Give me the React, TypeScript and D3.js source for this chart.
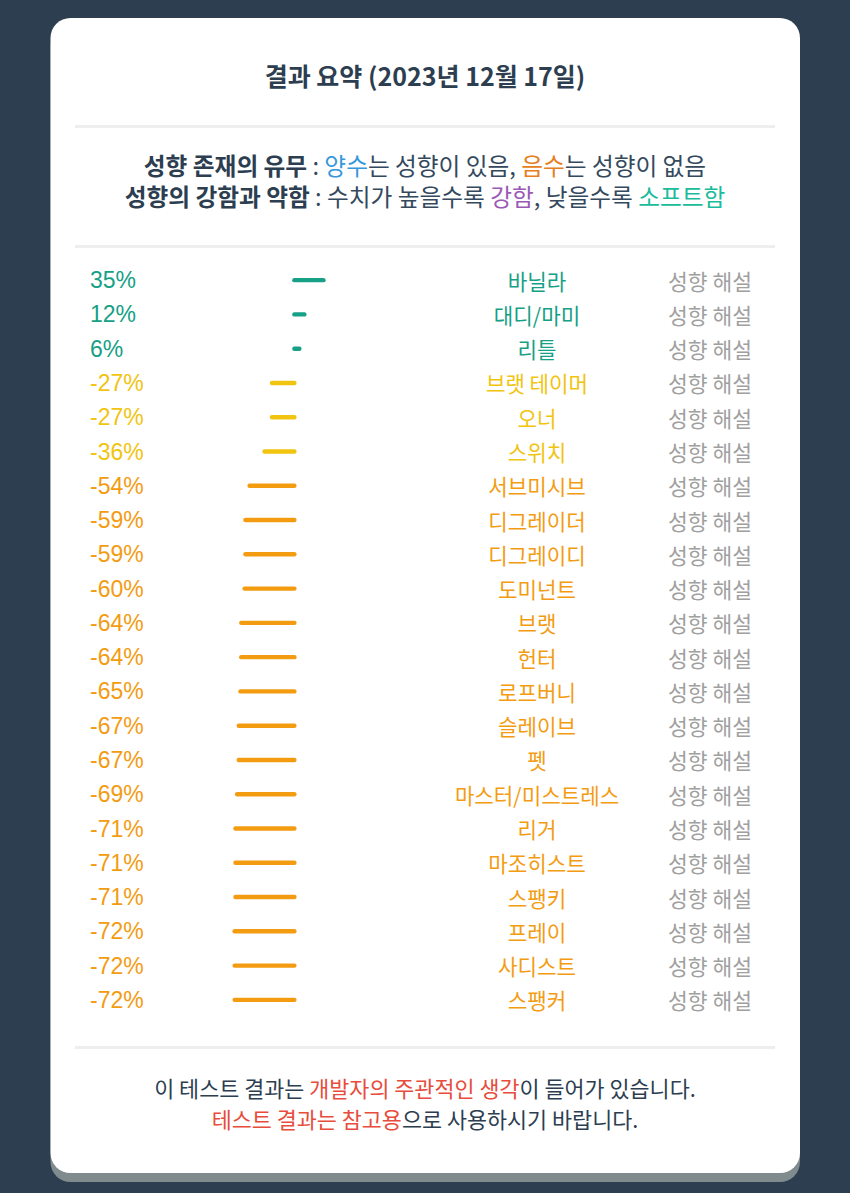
import React from "react";
import * as d3 from "d3";

const categories = [
  "바닐라", "대디/마미", "리틀", "브랫 테이머", "오너", "스위치", "서브미시브",
  "디그레이더", "디그레이디", "도미넌트", "브랫", "헌터", "로프버니", "슬레이브",
  "펫", "마스터/미스트레스", "리거", "마조히스트", "스팽키", "프레이", "사디스트", "스팽커",
];
const values = [35, 12, 6, -27, -27, -36, -54, -59, -59, -60, -64, -64, -65, -67, -67, -69, -71, -71, -71, -72, -72, -72];
const detailLabel = "성향 해설";
const title = "결과 요약 (2023년 12월 17일)";

const W = 850;
const H = 1193;
const KR = "'Noto Sans CJK KR', 'Noto Sans', sans-serif";
const LAT = "'Liberation Sans', Arial, sans-serif";

function colorFor(v: number) {
  if (v > 0) return "#16a085";
  if (v > -50) return "#f1c40f";
  return "#f39c12";
}

export default function App() {
  const y = d3.scaleBand<number>().domain(d3.range(categories.length)).range([263, 1017]);
  const x = d3.scaleLinear().domain([-100, 100]).range([294.4 - 83, 294.4 + 83]);
  const yc = (i: number) => (y(i) as number) + y.bandwidth() / 2;

  return (
    <svg width={W} height={H} style={{ position: "absolute", left: 0, top: 0, display: "block" }}>
      <rect x={0} y={0} width={W} height={H} fill="#2c3e50" />
      {/* card shadow */}
      <rect x={50.5} y={26} width={749.5} height={1156} rx={20} fill="#7f8b8d" />
      <rect x={50.5} y={18} width={749.5} height={1155} rx={20} fill="#ffffff" />

      <text x={425} y={75} textAnchor="middle" dominantBaseline="central" fontFamily={KR} fontWeight={700} fontSize={25} fill="#2c3e50">
        {title}
      </text>

      <rect x={75} y={125} width={700} height={3} fill="#eeeeee" />

      <text x={425} y={165} textAnchor="middle" dominantBaseline="central" fontFamily={KR} fontSize={23.7} fill="#34495e">
        <tspan fontWeight={700} fill="#2c3e50">성향 존재의 유무</tspan>
        <tspan> : </tspan>
        <tspan fill="#3498db">양수</tspan>
        <tspan>는 성향이 있음, </tspan>
        <tspan fill="#e67e22">음수</tspan>
        <tspan>는 성향이 없음</tspan>
      </text>
      <text x={425} y={196} textAnchor="middle" dominantBaseline="central" fontFamily={KR} fontSize={23.7} fill="#34495e">
        <tspan fontWeight={700} fill="#2c3e50">성향의 강함과 약함</tspan>
        <tspan> : 수치가 높을수록 </tspan>
        <tspan fill="#9b59b6">강함</tspan>
        <tspan>, 낮을수록 </tspan>
        <tspan fill="#1abc9c">소프트함</tspan>
      </text>

      <rect x={75} y={245} width={700} height={3} fill="#eeeeee" />

      {values.map((v, i) => (
        <g key={i}>
          <text x={90} y={yc(i)} dominantBaseline="central" fontFamily={LAT} fontSize={23} fill={colorFor(v)}>
            {`${v}%`}
          </text>
          <line
            x1={x(0)}
            x2={x(v)}
            y1={yc(i)}
            y2={yc(i)}
            stroke={colorFor(v)}
            strokeWidth={4.4}
            strokeLinecap="round"
          />
          <text x={537} y={yc(i)} textAnchor="middle" dominantBaseline="central" fontFamily={KR} fontSize={21.2} fill={colorFor(v)}>
            {categories[i]}
          </text>
          <text x={710} y={yc(i)} textAnchor="middle" dominantBaseline="central" fontFamily={KR} fontSize={21.5} fill="#a0a0a0">
            {detailLabel}
          </text>
        </g>
      ))}

      <rect x={75} y={1046} width={700} height={3} fill="#eeeeee" />

      <text x={425} y={1087} textAnchor="middle" dominantBaseline="central" fontFamily={KR} fontSize={21.8} fill="#2c3e50">
        <tspan>이 테스트 결과는 </tspan>
        <tspan fill="#e74c3c">개발자의 주관적인 생각</tspan>
        <tspan>이 들어가 있습니다.</tspan>
      </text>
      <text x={425} y={1118} textAnchor="middle" dominantBaseline="central" fontFamily={KR} fontSize={21.8} fill="#2c3e50">
        <tspan fill="#e74c3c">테스트 결과는 참고용</tspan>
        <tspan>으로 사용하시기 바랍니다.</tspan>
      </text>
    </svg>
  );
}
